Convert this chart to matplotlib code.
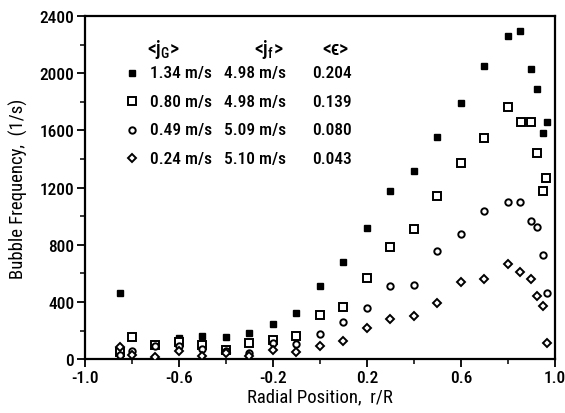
import matplotlib
matplotlib.use("Agg")
import matplotlib.pyplot as plt
from matplotlib.ticker import MultipleLocator, FixedLocator

plt.rcParams["font.family"] = ["Roboto Condensed", "DejaVu Sans"]
plt.rcParams["font.weight"] = "medium"
plt.rcParams["mathtext.fontset"] = "custom"
plt.rcParams["mathtext.rm"] = "Roboto Condensed:medium"
plt.rcParams["mathtext.it"] = "Roboto Condensed:medium"
plt.rcParams["mathtext.bf"] = "Roboto Condensed:bold"
plt.rcParams["axes.unicode_minus"] = False

# Bubble frequency profiles, four gas flow conditions
x_a = [-0.85, -0.7, -0.6, -0.5, -0.4, -0.3, -0.2, -0.1, 0.0, 0.1, 0.2, 0.3,
       0.4, 0.5, 0.6, 0.7, 0.8, 0.85, 0.9, 0.925, 0.95, 0.967]
f_a = [460, 100, 145, 160, 152, 182, 245, 326, 513, 681, 915, 1173,
       1318, 1556, 1791, 2053, 2258, 2298, 2029, 1890, 1579, 1656]

x_b = [-0.85, -0.8, -0.7, -0.6, -0.5, -0.4, -0.3, -0.2, -0.1, 0.0, 0.1, 0.2,
       0.3, 0.4, 0.5, 0.6, 0.7, 0.8, 0.855, 0.9, 0.925, 0.95, 0.963]
f_b = [48, 152, 100, 119, 98, 63, 112, 133, 163, 308, 362, 567,
       786, 910, 1143, 1372, 1547, 1761, 1656, 1656, 1440, 1178, 1264]

x_c = [-0.85, -0.8, -0.7, -0.6, -0.5, -0.4, -0.3, -0.2, -0.1, 0.0, 0.1, 0.2,
       0.3, 0.4, 0.5, 0.6, 0.7, 0.8, 0.85, 0.9, 0.925, 0.95, 0.968]
f_c = [28, 58, 95, 93, 70, 55, 45, 110, 105, 175, 257, 355,
       509, 520, 754, 875, 1038, 1097, 1097, 963, 921, 728, 460]

x_d = [-0.85, -0.8, -0.7, -0.6, -0.5, -0.4, -0.3, -0.2, -0.1, 0.0, 0.1, 0.2,
       0.3, 0.4, 0.5, 0.6, 0.7, 0.8, 0.85, 0.9, 0.925, 0.95, 0.968]
f_d = [82, 30, 14, 58, 23, 45, 25, 65, 51, 89, 124, 215,
       280, 303, 392, 537, 560, 663, 611, 560, 443, 373, 110]

jg_labels = ["1.34 m/s", "0.80 m/s", "0.49 m/s", "0.24 m/s"]
jf_labels = ["4.98 m/s", "4.98 m/s", "5.09 m/s", "5.10 m/s"]
eps_labels = ["0.204", "0.139", "0.080", "0.043"]

x_ticks = [-1.0, -0.6, -0.2, 0.2, 0.6, 1.0]
x_tick_labels = ["-1.0", "-0.6", "-0.2", "0.2", "0.6", "1.0"]
y_ticks = [0, 400, 800, 1200, 1600, 2000, 2400]

styles = [
    dict(marker="s", ms=3.8, mfc="black", mec="black", mew=1.0),
    dict(marker="s", ms=6, mfc="white", mec="black", mew=1.4),
    dict(marker="o", ms=4.6, mfc="white", mec="black", mew=1.4),
    dict(marker="D", ms=4.4, mfc="white", mec="black", mew=1.4),
]

fig = plt.figure(figsize=(5.65, 4.14), dpi=100)
ax = fig.add_axes([0.150, 0.130, 0.832, 0.829])

series = [(x_a, f_a), (x_b, f_b), (x_c, f_c), (x_d, f_d)]
for (xs, ys), st in zip(series, styles):
    ax.plot(xs, ys, linestyle="none", **st, zorder=3)

ax.set_xlim(-1.0, 1.0)
ax.set_ylim(0, 2400)
ax.xaxis.set_major_locator(FixedLocator(x_ticks))
ax.set_xticklabels(x_tick_labels)
ax.xaxis.set_minor_locator(MultipleLocator(0.2))
ax.yaxis.set_major_locator(FixedLocator(y_ticks))
ax.yaxis.set_minor_locator(MultipleLocator(200))
ax.tick_params(which="major", direction="out", length=6, width=1.3,
               labelsize=12.5, pad=1.5)
ax.tick_params(which="minor", direction="out", length=3.5, width=1.1)
for sp in ax.spines.values():
    sp.set_linewidth(1.6)

ax.set_xlabel("Radial Position,  r/R", fontsize=13.5, labelpad=2)
ax.set_ylabel("Bubble Frequency,  (1/s)", fontsize=13.5, labelpad=8)

# Key with flow conditions
tr = ax.transAxes
ax.text(0.167, 0.905, r"<j$_G$>", transform=tr, ha="center",
        va="center", fontsize=14.5)
ax.text(0.392, 0.905, r"<j$_f$>", transform=tr, ha="center",
        va="center", fontsize=14.5)
ax.text(0.534, 0.905, "<\u03f5>", transform=tr, ha="center",
        va="center", fontsize=14.5)
row_y = [0.834, 0.751, 0.669, 0.586]
for yy, st, a, b, c in zip(row_y, styles, jg_labels, jf_labels, eps_labels):
    ax.plot([0.100], [yy], transform=tr, linestyle="none", clip_on=False, **st)
    ax.text(0.138, yy, a, transform=tr, va="center", ha="left", fontsize=12.5)
    ax.text(0.297, yy, b, transform=tr, va="center", ha="left", fontsize=12.5)
    ax.text(0.483, yy, c, transform=tr, va="center", ha="left", fontsize=12.5)

fig.savefig("out.png", dpi=100)
